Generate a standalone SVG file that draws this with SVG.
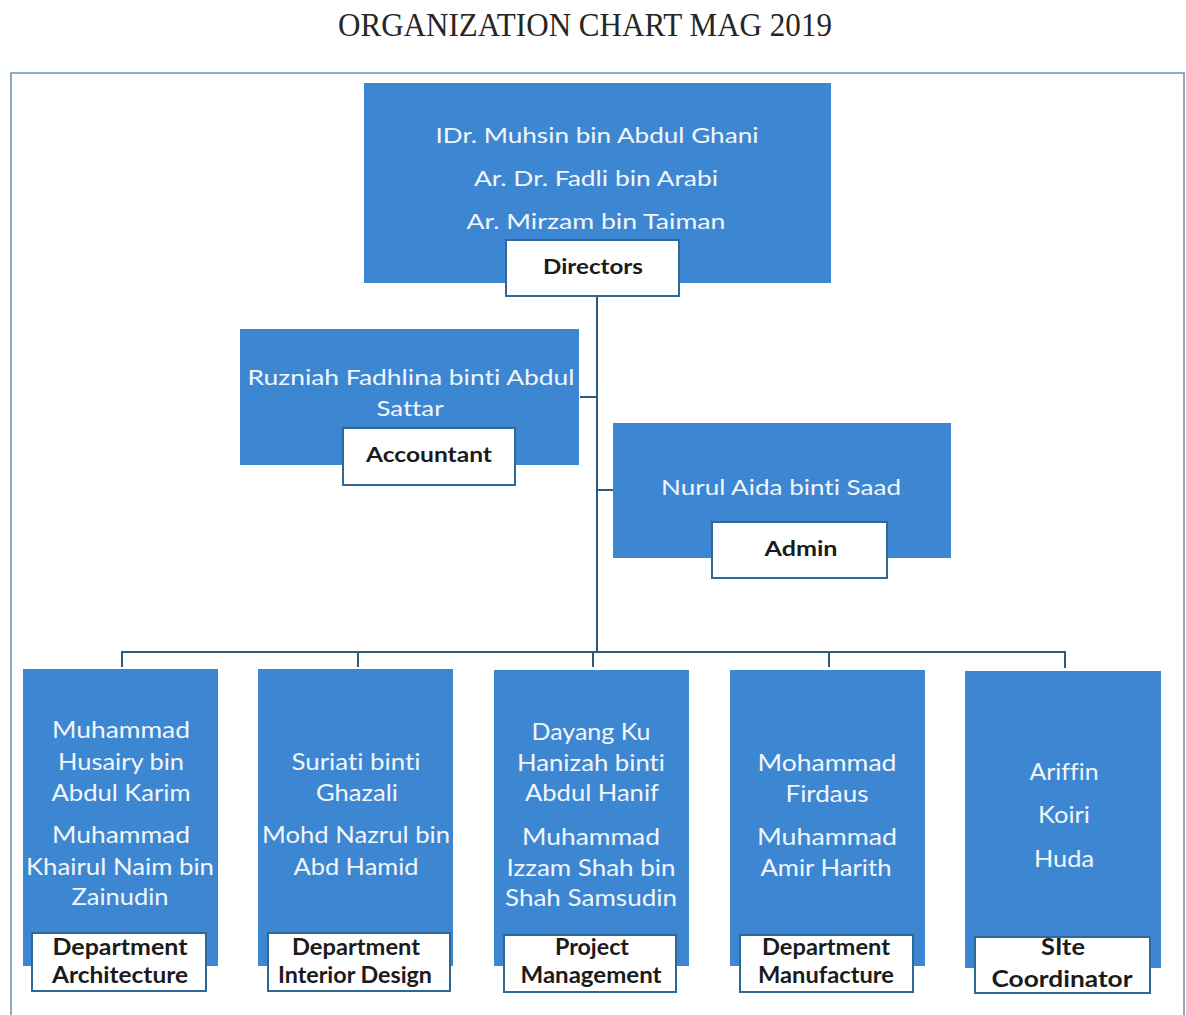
<svg xmlns="http://www.w3.org/2000/svg" width="1186" height="1015" viewBox="0 0 1186 1015">
  <style>
    .frame { fill: none; stroke: #6f93ad; stroke-width: 1.6; }
    .title { font-family: "Liberation Serif", "Times New Roman", serif; font-size: 33px; fill: #262626; }
    .card { fill: #3d87d2; }
    .tag { fill: #ffffff; stroke: #2f6896; stroke-width: 2; }
    .name { font-family: Lato, "Open Sans", "Liberation Sans", sans-serif; fill: #f2f6fb; text-anchor: middle; font-variant-ligatures: none; }
    .top { font-size: 21px; }
    .big { font-size: 24px; }
    .role { font-family: Lato, "Open Sans", "Liberation Sans", sans-serif; font-weight: bold; fill: #1b1b1b; text-anchor: middle; font-size: 21px; font-variant-ligatures: none; }
    .role2 { font-size: 22px; }
    .link { fill: none; stroke: #2c5b7c; stroke-width: 2; }
  </style>

  <rect width="1186" height="1015" fill="#ffffff"/>

  <text class="title" x="338" y="36" textLength="494" lengthAdjust="spacingAndGlyphs">ORGANIZATION CHART MAG 2019</text>

  <!-- outer frame (bottom edge runs past the page) -->
  <path class="frame" d="M11,1030 V73 H1184 V1030"/>

  <!-- connectors -->
  <g id="connectors">
    <path class="link" d="M597,296 V652"/>
    <path class="link" d="M580,397 H597"/>
    <path class="link" d="M597,490 H613"/>
    <path class="link" d="M122,667 V652 H1065 V668"/>
    <path class="link" d="M358,652 V667"/>
    <path class="link" d="M593,652 V667"/>
    <path class="link" d="M829,652 V667"/>
  </g>

  <!-- Directors -->
  <g id="directors">
    <rect class="card" x="364" y="83" width="467" height="200"/>
    <text class="name top" x="597" y="143" textLength="323" lengthAdjust="spacingAndGlyphs">IDr. Muhsin bin Abdul Ghani</text>
    <text class="name top" x="596" y="186" textLength="244" lengthAdjust="spacingAndGlyphs">Ar. Dr. Fadli bin Arabi</text>
    <text class="name top" x="596" y="229" textLength="259" lengthAdjust="spacingAndGlyphs">Ar. Mirzam bin Taiman</text>
    <rect class="tag" x="506" y="240" width="173" height="56"/>
    <text class="role" x="593" y="274" textLength="100" lengthAdjust="spacingAndGlyphs">Directors</text>
  </g>

  <!-- Accountant -->
  <g id="accountant">
    <rect class="card" x="240" y="329" width="339" height="136"/>
    <text class="name top" x="411" y="385" textLength="327" lengthAdjust="spacingAndGlyphs">Ruzniah Fadhlina binti Abdul</text>
    <text class="name top" x="410" y="416" textLength="67" lengthAdjust="spacingAndGlyphs">Sattar</text>
    <rect class="tag" x="343" y="428" width="172" height="57"/>
    <text class="role" x="429" y="462" textLength="126" lengthAdjust="spacingAndGlyphs">Accountant</text>
  </g>

  <!-- Admin -->
  <g id="admin">
    <rect class="card" x="613" y="423" width="338" height="135"/>
    <text class="name top" x="781" y="495" textLength="240" lengthAdjust="spacingAndGlyphs">Nurul Aida binti Saad</text>
    <rect class="tag" x="712" y="522" width="175" height="56"/>
    <text class="role" x="801" y="556" textLength="73" lengthAdjust="spacingAndGlyphs">Admin</text>
  </g>

  <!-- Department Architecture -->
  <g id="architecture">
    <rect class="card" x="23" y="669" width="195" height="297"/>
    <text class="name big" x="121" y="738" textLength="138" lengthAdjust="spacingAndGlyphs">Muhammad</text>
    <text class="name big" x="121" y="770" textLength="126" lengthAdjust="spacingAndGlyphs">Husairy bin</text>
    <text class="name big" x="121" y="801" textLength="139" lengthAdjust="spacingAndGlyphs">Abdul Karim</text>
    <text class="name big" x="121" y="843" textLength="138" lengthAdjust="spacingAndGlyphs">Muhammad</text>
    <text class="name big" x="120" y="875" textLength="188" lengthAdjust="spacingAndGlyphs">Khairul Naim bin</text>
    <text class="name big" x="120" y="905" textLength="97" lengthAdjust="spacingAndGlyphs">Zainudin</text>
    <rect class="tag" x="32" y="933" width="174" height="58"/>
    <text class="role role2" x="120" y="955" textLength="135" lengthAdjust="spacingAndGlyphs">Department</text>
    <text class="role role2" x="120" y="983" textLength="136" lengthAdjust="spacingAndGlyphs">Architecture</text>
  </g>

  <!-- Department Interior Design -->
  <g id="interior-design">
    <rect class="card" x="258" y="669" width="195" height="297"/>
    <text class="name big" x="356" y="770" textLength="129" lengthAdjust="spacingAndGlyphs">Suriati binti</text>
    <text class="name big" x="357" y="801" textLength="82" lengthAdjust="spacingAndGlyphs">Ghazali</text>
    <text class="name big" x="356" y="843" textLength="188" lengthAdjust="spacingAndGlyphs">Mohd Nazrul bin</text>
    <text class="name big" x="356" y="875" textLength="125" lengthAdjust="spacingAndGlyphs">Abd Hamid</text>
    <rect class="tag" x="268" y="933" width="182" height="58"/>
    <text class="role role2" x="356" y="955" textLength="128" lengthAdjust="spacingAndGlyphs">Department</text>
    <text class="role role2" x="355" y="983" textLength="154" lengthAdjust="spacingAndGlyphs">Interior Design</text>
  </g>

  <!-- Project Management -->
  <g id="project-management">
    <rect class="card" x="494" y="670" width="195" height="296"/>
    <text class="name big" x="591" y="740" textLength="119" lengthAdjust="spacingAndGlyphs">Dayang Ku</text>
    <text class="name big" x="591" y="771" textLength="148" lengthAdjust="spacingAndGlyphs">Hanizah binti</text>
    <text class="name big" x="592" y="801" textLength="134" lengthAdjust="spacingAndGlyphs">Abdul Hanif</text>
    <text class="name big" x="591" y="845" textLength="138" lengthAdjust="spacingAndGlyphs">Muhammad</text>
    <text class="name big" x="591" y="876" textLength="169" lengthAdjust="spacingAndGlyphs">Izzam Shah bin</text>
    <text class="name big" x="591" y="906" textLength="172" lengthAdjust="spacingAndGlyphs">Shah Samsudin</text>
    <rect class="tag" x="504" y="935" width="172" height="57"/>
    <text class="role role2" x="592" y="955" textLength="74" lengthAdjust="spacingAndGlyphs">Project</text>
    <text class="role role2" x="591" y="983" textLength="141" lengthAdjust="spacingAndGlyphs">Management</text>
  </g>

  <!-- Department Manufacture -->
  <g id="manufacture">
    <rect class="card" x="730" y="670" width="195" height="296"/>
    <text class="name big" x="827" y="771" textLength="139" lengthAdjust="spacingAndGlyphs">Mohammad</text>
    <text class="name big" x="827" y="802" textLength="83" lengthAdjust="spacingAndGlyphs">Firdaus</text>
    <text class="name big" x="827" y="845" textLength="140" lengthAdjust="spacingAndGlyphs">Muhammad</text>
    <text class="name big" x="826" y="876" textLength="131" lengthAdjust="spacingAndGlyphs">Amir Harith</text>
    <rect class="tag" x="740" y="935" width="173" height="57"/>
    <text class="role role2" x="826" y="955" textLength="128" lengthAdjust="spacingAndGlyphs">Department</text>
    <text class="role role2" x="826" y="983" textLength="136" lengthAdjust="spacingAndGlyphs">Manufacture</text>
  </g>

  <!-- Site Coordinator -->
  <g id="site-coordinator">
    <rect class="card" x="965" y="671" width="196" height="297"/>
    <text class="name big" x="1064" y="780" textLength="69" lengthAdjust="spacingAndGlyphs">Ariffin</text>
    <text class="name big" x="1064" y="823" textLength="52" lengthAdjust="spacingAndGlyphs">Koiri</text>
    <text class="name big" x="1064" y="867" textLength="60" lengthAdjust="spacingAndGlyphs">Huda</text>
    <rect class="tag" x="975" y="937" width="175" height="56"/>
    <text class="role role2" x="1063" y="955" textLength="44" lengthAdjust="spacingAndGlyphs">SIte</text>
    <text class="role role2" x="1062" y="987" textLength="141" lengthAdjust="spacingAndGlyphs">Coordinator</text>
  </g>
</svg>
